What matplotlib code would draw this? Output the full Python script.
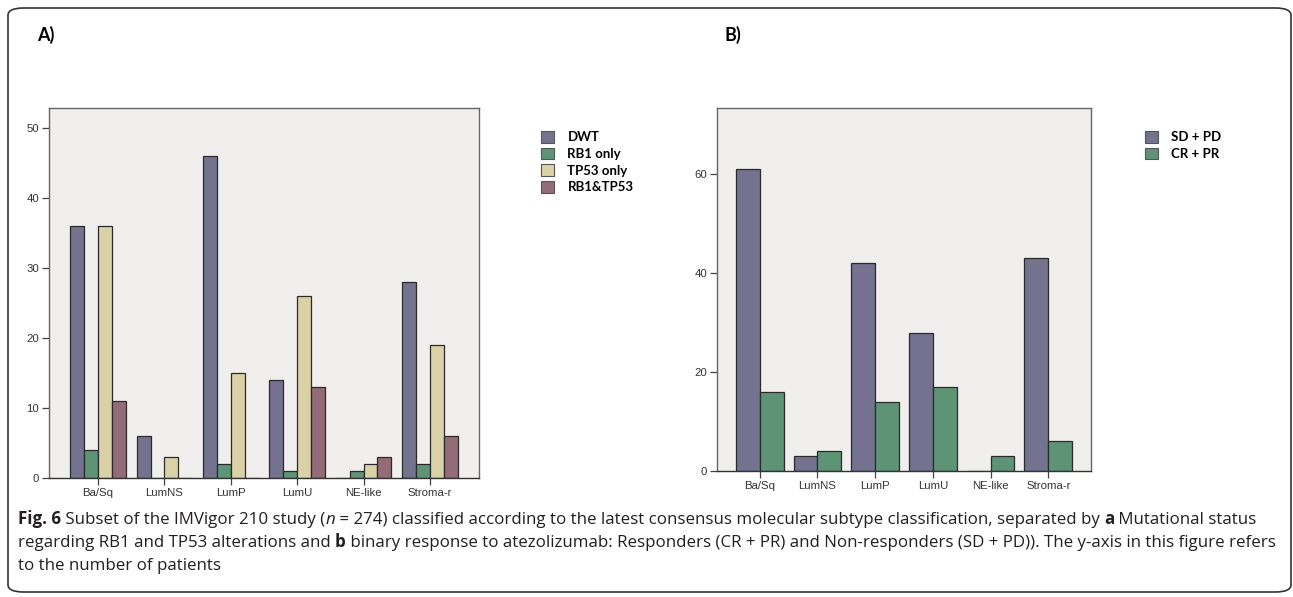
import numpy as np
import matplotlib.pyplot as plt
from matplotlib.patches import FancyBboxPatch, Patch

subtypes = ['Ba/Sq', 'LumNS', 'LumP', 'LumU', 'NE-like', 'Stroma-r']

# panel A: mutational status
mut_labels = ['DWT', 'RB1 only', 'TP53 only', 'RB1&TP53']
dwt = [36, 6, 46, 14, 0, 28]
rb1_only = [4, 0, 2, 1, 1, 2]
tp53_only = [36, 3, 15, 26, 2, 19]
rb1_tp53 = [11, 0, 0, 13, 3, 6]

# panel B: response to atezolizumab
resp_labels = ['SD + PD', 'CR + PR']
sd_pd = [61, 3, 42, 28, 0, 43]
cr_pr = [16, 4, 14, 17, 3, 6]

c_purple = '#737390'
c_green = '#5e9476'
c_beige = '#dad2a6'
c_mauve = '#946b79'
bg = '#f0efed'

W, H = 1293, 597
fig = plt.figure(figsize=(W / 100, H / 100), dpi=100)


def fx(px):
    return px / W


def fy(py):
    return 1 - py / H


def style_axes(ax, top):
    ax.set_facecolor(bg)
    for s in ax.spines.values():
        s.set_color('#666666')
        s.set_linewidth(1.0)
    ax.spines['bottom'].set_color('#333333')
    ax.set_xticks(range(len(subtypes)))
    ax.set_xticklabels(subtypes, fontsize=8.2, color='#333333', family='Liberation Sans')
    ax.tick_params(axis='both', direction='out', length=5, width=0.9, color='#444444', pad=2)
    ax.tick_params(axis='y', labelsize=8.2, labelcolor='#333333')
    for t in ax.get_yticklabels():
        t.set_family('Liberation Sans')
    ax.set_xlim(-0.74, len(subtypes) - 1 + 0.74)
    ax.set_ylim(0, top)


# ---- panel A
axA = fig.add_axes([fx(49), fy(478), fx(430), (478 - 108) / H])
x = np.arange(len(subtypes))
bw = 0.21
seriesA = [dwt, rb1_only, tp53_only, rb1_tp53]
colsA = [c_purple, c_green, c_beige, c_mauve]
for i, (vals, col) in enumerate(zip(seriesA, colsA)):
    axA.bar(x + (i - 1.5) * bw, vals, bw, color=col, edgecolor='#2a2a2a', linewidth=0.9, zorder=2)
axA.set_yticks([0, 10, 20, 30, 40, 50])
style_axes(axA, 52.9)

# ---- panel B
axB = fig.add_axes([fx(717), fy(471), fx(374), (471 - 108) / H])
bw2 = 0.413
for i, (vals, col) in enumerate(zip([sd_pd, cr_pr], [c_purple, c_green])):
    axB.bar(x + (i - 0.5) * bw2, vals, bw2, color=col, edgecolor='#2a2a2a', linewidth=0.9, zorder=2)
axB.set_yticks([0, 20, 40, 60])
style_axes(axB, 73.4)

# legends
leg_font = dict(family='Lato', weight='bold', size=9.5)
hA = [Patch(facecolor=c, edgecolor='#555555', linewidth=0.8) for c in colsA]
fig.legend(hA, mut_labels, loc='upper left', bbox_to_anchor=(fx(541), fy(131)),
           frameon=False, prop=leg_font, handlelength=1.0, handleheight=1.0,
           handletextpad=1.0, labelspacing=0.32, borderpad=0, borderaxespad=0)
hB = [Patch(facecolor=c, edgecolor='#555555', linewidth=0.8) for c in [c_purple, c_green]]
fig.legend(hB, resp_labels, loc='upper left', bbox_to_anchor=(fx(1145), fy(131)),
           frameon=False, prop=leg_font, handlelength=1.0, handleheight=1.0,
           handletextpad=1.0, labelspacing=0.32, borderpad=0, borderaxespad=0)

# panel letters
fig.text(fx(37), fy(26), 'A)', fontsize=13, fontweight='bold', family='Lato', va='top')
fig.text(fx(724), fy(26), 'B)', fontsize=13, fontweight='bold', family='Lato', va='top')

# outer frame
frame = FancyBboxPatch((fx(8), fy(592)), fx(1283), (592 - 8) / H,
                       boxstyle='round,pad=0,rounding_size=0.012',
                       transform=fig.transFigure, facecolor='none',
                       edgecolor='#333333', linewidth=1.2)
fig.add_artist(frame)

# caption, built from runs
renderer = fig.canvas.get_renderer()
cap_size = 12.2
cap_col = '#231f20'


def runs(y_px, parts):
    xpos = fx(18)
    for txt, kw in parts:
        t = fig.text(xpos, fy(y_px), txt, fontsize=cap_size, color=cap_col,
                     family='Open Sans', va='baseline', **kw)
        bb = t.get_window_extent(renderer=renderer)
        xpos += bb.width / W


R = {}
B = {'fontweight': 'bold'}
I = {'fontstyle': 'italic'}
runs(524, [('Fig. 6', B), (' Subset of the IMVigor 210 study (', R), ('n', I),
           (' = 274) classified according to the latest consensus molecular subtype classification, separated by ', R),
           ('a', B), (' Mutational status', R)])
runs(547, [('regarding RB1 and TP53 alterations and ', R), ('b', B),
           (' binary response to atezolizumab: Responders (CR + PR) and Non-responders (SD + PD)). The y-axis in this figure refers', R)])
runs(570, [('to the number of patients', R)])

fig.savefig('out.png', dpi=100)
